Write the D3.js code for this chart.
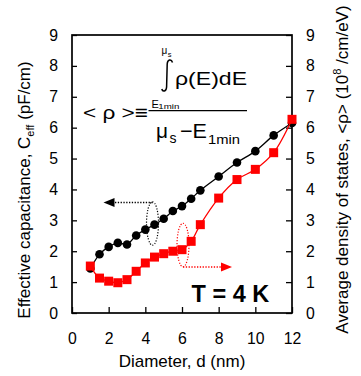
<!DOCTYPE html>
<html>
<head>
    <meta charset="UTF-8">
    <script src="https://d3js.org/d3.v7.min.js"></script>
    <style>
        body { margin: 0; background: #fff; }
        text { font-family: "Liberation Sans", Arial, sans-serif; fill: #000; }
        .axis text { font-size: 15.8px; }
        .axis line { stroke: #000; stroke-width: 1.3; }
        .title { font-size: 17px; }
    </style>
</head>
<body>
    <svg id="chart" width="361" height="376"></svg>

    <script>
        // diameter (nm)
        let diameters = [1, 1.5, 2, 2.5, 3, 3.5, 4, 4.5, 5, 5.5, 6, 6.5, 7, 8, 9, 10, 11, 12]
        // effective capacitance (pF/cm), left axis
        let ceff = [1.44, 1.90, 2.14, 2.27, 2.22, 2.51, 2.70, 2.86, 3.05, 3.30, 3.46, 3.70, 3.97, 4.42, 4.87, 5.24, 5.75, 6.15]
        // average density of states (10^8 /cm/eV), right axis
        let rho = [1.52, 1.13, 1.03, 0.98, 1.08, 1.35, 1.62, 1.81, 1.92, 2.00, 2.05, 2.32, 2.86, 3.72, 4.32, 4.65, 5.19, 6.27]
        let xTicks = [0, 2, 4, 6, 8, 10, 12]
        let yTicks = [0, 1, 2, 3, 4, 5, 6, 7, 8, 9]

        let margin = {top: 35, right: 69, bottom: 63, left: 72},
            width = 361 - margin.left - margin.right,
            height = 376 - margin.top - margin.bottom;

        let svg = d3.select("#chart")
        let chart = svg.append("g")
            .attr("transform", "translate(" + margin.left + "," + margin.top + ")");

        let xScale = d3.scaleLinear().domain([0, 12]).range([0, width])
        let yLeft = d3.scaleLinear().domain([0, 9]).range([height, 0])
        let yRight = d3.scaleLinear().domain([0, 9]).range([height, 0])

        // axes, ticks pointing inward
        chart.append("g")
            .attr("class", "axis")
            .attr("transform", "translate(0," + height + ")")
            .call(d3.axisBottom(xScale).tickValues(xTicks).tickSizeInner(-6).tickSizeOuter(0).tickPadding(20))
        chart.append("g")
            .attr("class", "axis")
            .call(d3.axisLeft(yLeft).tickValues(yTicks).tickSizeInner(-5).tickSizeOuter(0).tickPadding(14))
        chart.append("g")
            .attr("class", "axis")
            .attr("transform", "translate(" + width + ",0)")
            .call(d3.axisRight(yRight).tickValues(yTicks).tickSizeInner(-6).tickSizeOuter(0).tickPadding(14))
        chart.selectAll(".axis .domain").remove()
        chart.selectAll(".axis text").attr("font-family", null)

        chart.append("rect")
            .attr("width", width)
            .attr("height", height)
            .attr("fill", "none")
            .attr("stroke", "#000")
            .attr("stroke-width", 1.7)

        // series
        let lineLeft = d3.line()
            .x((d, i) => xScale(diameters[i]))
            .y(d => yLeft(d))
            .curve(d3.curveCatmullRom.alpha(0.5))
        let lineRight = d3.line()
            .x((d, i) => xScale(diameters[i]))
            .y(d => yRight(d))
            .curve(d3.curveCatmullRom.alpha(0.5))

        chart.append("path")
            .datum(ceff)
            .attr("d", lineLeft)
            .attr("fill", "none")
            .attr("stroke", "#000")
            .attr("stroke-width", 1.3)
        chart.selectAll(".dot")
            .data(ceff)
            .join("circle")
            .attr("class", "dot")
            .attr("cx", (d, i) => xScale(diameters[i]))
            .attr("cy", d => yLeft(d))
            .attr("r", 4.3)
            .attr("fill", "#000")

        chart.append("path")
            .datum(rho)
            .attr("d", lineRight)
            .attr("fill", "none")
            .attr("stroke", "#ff0000")
            .attr("stroke-width", 1.3)
        chart.selectAll(".sq")
            .data(rho)
            .join("rect")
            .attr("class", "sq")
            .attr("x", (d, i) => xScale(diameters[i]) - 4.5)
            .attr("y", d => yRight(d) - 4.5)
            .attr("width", 9)
            .attr("height", 9)
            .attr("fill", "#ff0000")

        // dotted ellipses with arrows
        function pointer(cx, cy, lineY, x0, x1, tip, color) {
            let g = svg.append("g")
            g.append("ellipse")
                .attr("cx", cx).attr("cy", cy).attr("rx", 6).attr("ry", 21.7)
                .attr("fill", "none").attr("stroke", color)
                .attr("stroke-width", 1.2).attr("stroke-dasharray", "1.2,1.6")
            g.append("line")
                .attr("x1", x0).attr("x2", x1).attr("y1", lineY).attr("y2", lineY)
                .attr("stroke", color).attr("stroke-width", 1.4).attr("stroke-dasharray", "1.3,1.5")
            let dir = tip < x1 ? -1 : 1
            g.append("path")
                .attr("d", "M" + tip + "," + lineY + "L" + (tip - dir * 11) + "," + (lineY - 4.5) +
                    "L" + (tip - dir * 11) + "," + (lineY + 4.5) + "Z")
                .attr("fill", color)
        }
        pointer(152.5, 223.5, 202.5, 115, 153, 103.5, "#000")
        pointer(183, 245, 267, 183, 221, 232, "#ff0000")

        // formula
        let f = svg.append("g")
        f.append("text").attr("x", 83).attr("y", 118.5).attr("font-size", 19)
            .attr("textLength", 65).attr("lengthAdjust", "spacingAndGlyphs").text("< ρ >≡")
        f.append("text").attr("x", 161.5).attr("y", 54).attr("font-size", 10).text("μ")
        f.append("text").attr("x", 167.8).attr("y", 57).attr("font-size", 7.5).text("s")
        f.append("path")
            .attr("d", "M172.5,62.5 C171.5,59 167.5,59 167.2,64 L166.6,87 C166.3,92 162.5,92 161.8,89")
            .attr("fill", "none").attr("stroke", "#000").attr("stroke-width", 1.5)
        f.append("text").attr("x", 175).attr("y", 85).attr("font-size", 19)
            .attr("textLength", 72).attr("lengthAdjust", "spacingAndGlyphs").text("ρ(E)dE")
        f.append("text").attr("x", 151.5).attr("y", 107.5).attr("font-size", 11).text("E")
        f.append("text").attr("x", 158.3).attr("y", 109).attr("font-size", 8)
            .attr("textLength", 21).attr("lengthAdjust", "spacingAndGlyphs").text("1min")
        f.append("line").attr("x1", 148.5).attr("x2", 247).attr("y1", 110.7).attr("y2", 110.7)
            .attr("stroke", "#000").attr("stroke-width", 1.3)
        f.append("text").attr("x", 156).attr("y", 138.3).attr("font-size", 21)
            .attr("textLength", 12).attr("lengthAdjust", "spacingAndGlyphs").text("μ")
        f.append("text").attr("x", 169.5).attr("y", 143.3).attr("font-size", 14).text("s")
        f.append("text").attr("x", 180).attr("y", 138.3).attr("font-size", 21)
            .attr("textLength", 27).attr("lengthAdjust", "spacingAndGlyphs").text("−E")
        f.append("text").attr("x", 208).attr("y", 143.5).attr("font-size", 13)
            .attr("textLength", 32).attr("lengthAdjust", "spacingAndGlyphs").text("1min")

        svg.append("text")
            .attr("x", 191.5).attr("y", 302)
            .attr("font-size", 23.5).attr("font-weight", "bold")
            .text("T = 4 K")

        // axis titles
        svg.append("text")
            .attr("class", "title")
            .attr("font-size", 16.5)
            .attr("text-anchor", "middle")
            .attr("transform", "translate(182,367)")
            .text("Diameter, d (nm)")

        let lt = svg.append("text")
            .attr("class", "title")
            .attr("text-anchor", "middle")
            .attr("transform", "translate(29.5,190) rotate(-90)")
        lt.append("tspan").text("Effective capacitance, C")
        lt.append("tspan").attr("font-size", 11).attr("dy", 4).text("eff")
        lt.append("tspan").attr("dy", -4).text(" (pF/cm)")

        let rt = svg.append("text")
            .attr("class", "title")
            .attr("text-anchor", "middle")
            .attr("transform", "translate(348,169.5) rotate(-90)")
        rt.append("tspan").text("Average density of states, <ρ> (10")
        rt.append("tspan").attr("font-size", 11).attr("dy", -7).text("8")
        rt.append("tspan").attr("dy", 7).text(" /cm/eV)")
    </script>
</body>
</html>
